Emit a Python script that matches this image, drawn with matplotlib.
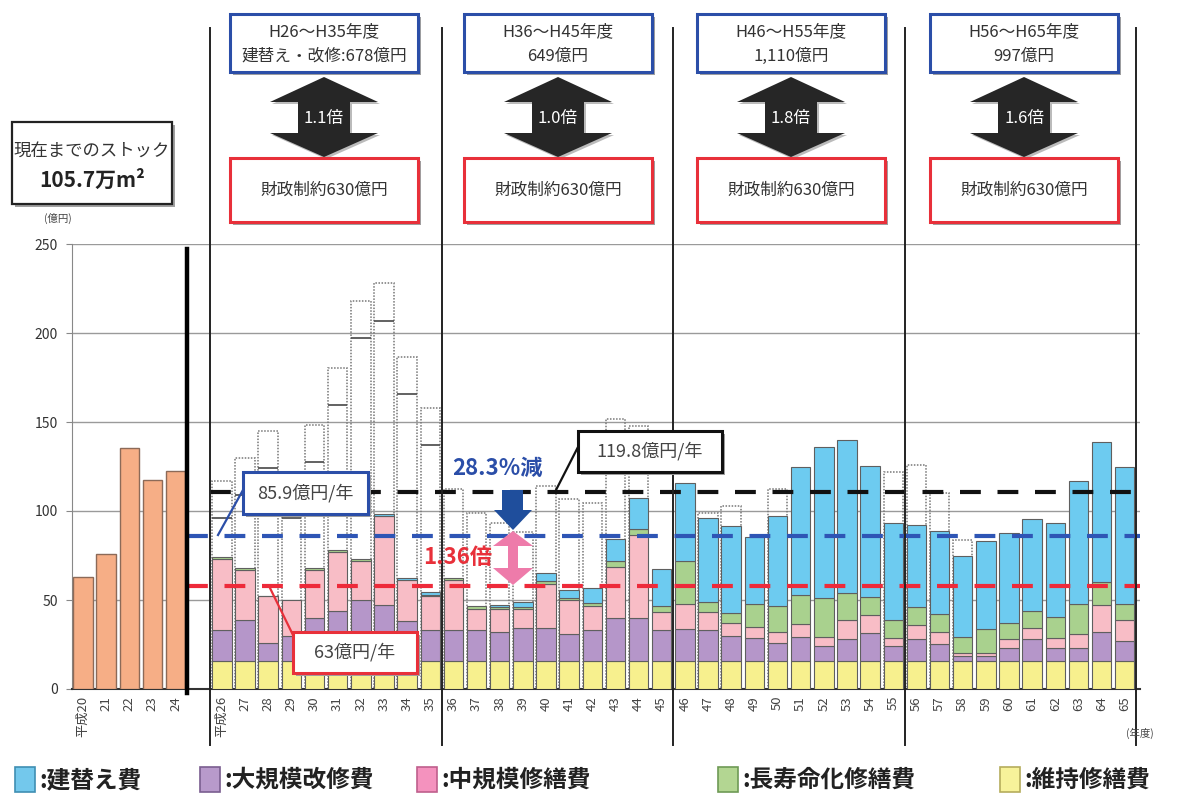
import numpy as np
import matplotlib
matplotlib.use('Agg')
import matplotlib.pyplot as plt
from matplotlib.patches import Rectangle, Polygon

plt.rcParams['font.family'] = ['Noto Sans CJK JP', 'DejaVu Sans']

# 実績（平成20～24年度）
hist_labels = ['平成20', '21', '22', '23', '24']
hist_vals = [63, 76, 135.5, 117.5, 122.5]

# 将来推計（平成26～65年度）
fut_labels = ['平成26', '27', '28', '29', '30', '31', '32', '33', '34', '35',
              '36', '37', '38', '39', '40', '41', '42', '43', '44', '45',
              '46', '47', '48', '49', '50', '51', '52', '53', '54', '55',
              '56', '57', '58', '59', '60', '61', '62', '63', '64', '65']
iji = [15.5, 15.5, 15.5, 15.5, 15.5, 15.5, 15.5, 15.5, 15.5, 15.5,
       15.5, 15.5, 15.5, 15.5, 15.5, 15.5, 15.5, 15.5, 15.5, 15.5,
       15.5, 15.5, 15.5, 15.5, 15.5, 15.5, 15.5, 15.5, 15.5, 15.5,
       15.5, 15.5, 15.5, 15.5, 15.5, 15.5, 15.5, 15.5, 15.5, 15.5]
daikibo = [17.5, 23.5, 10.5, 14.5, 24.5, 28.5, 34.5, 31.5, 22.5, 17.5,
           17.5, 17.5, 16.5, 18.5, 18.5, 15.5, 17.5, 24.5, 24.5, 17.5,
           18, 17.5, 14, 13, 10.5, 13.5, 8.5, 12.5, 16, 8.5,
           12.5, 10, 3, 3, 7.5, 12.5, 7.5, 7.5, 16.5, 11.5]
chukibo = [40, 28, 26, 20, 27, 33, 22, 50, 23, 19,
           28, 12, 13, 11, 25, 19, 13.5, 28.5, 46.5, 10,
           14.5, 10, 7.5, 6.5, 6, 7.5, 5, 11, 10, 4.5,
           8, 6.5, 2, 1.5, 5, 6, 5.5, 8, 15, 12]
choju = [1, 1, 0.5, 0, 1, 1, 1, 0, 0, 1,
         1.5, 1.5, 1, 1, 1.5, 1, 2, 3.5, 3.5, 3.5,
         24, 6, 5.5, 13, 14.5, 16.5, 22, 15, 10, 10,
         10, 10, 8.5, 13.5, 9, 10, 12, 17, 13, 9]
tatekae = [0, 0, 0, 0, 0, 0, 0, 1.5, 1.5, 1.5,
           0, 0, 1, 3, 4.5, 4.5, 8, 12, 17.5, 21,
           44, 47, 49, 37.5, 50.5, 71.5, 85, 86, 74, 54.5,
           46, 46.5, 45.5, 49.5, 50.5, 51.5, 52.5, 69, 79, 77]
# 長寿命化前の費用（点線の棒）と内訳線
before_total = [117, 130, 145, 116, 148.5, 180.5, 218, 228, 186.5, 158,
                112.5, 99, 93, 88, 114, 107, 104.5, 151.5, 148, 0,
                0, 99, 103, 0, 112.5, 0, 0, 0, 0, 122,
                126, 110, 83.5, 0, 0, 0, 0, 0, 0, 0]
before_inner = [96, 109, 124, 96, 127.5, 159.5, 197, 207, 165.5, 137]

# 平均線
avg_before = 110.5
avg_after = 85.9
budget = 58

series_names = [':建替え費', ':大規模改修費', ':中規模修繕費', ':長寿命化修繕費', ':維持修繕費']
seg_titles = [['H26～H35年度', '建替え・改修:678億円'], ['H36～H45年度', '649億円'],
              ['H46～H55年度', '1,110億円'], ['H56～H65年度', '997億円']]
seg_ratio = ['1.1倍', '1.0倍', '1.8倍', '1.6倍']

c_blue, c_purple, c_pink, c_green, c_yellow = '#6DCBF0', '#B596C9', '#F8BDC6', '#A9D18E', '#F7F08E'

fig = plt.figure(figsize=(11.78, 7.96), dpi=100)
ax = fig.add_axes([72 / 1178, 107 / 796, 1068 / 1178, 445 / 796])

xh = np.arange(len(hist_vals))
xf = np.arange(len(fut_labels)) + len(hist_vals) + 1
w = 0.84

ax.bar(xh, hist_vals, width=w, color='#F6AE86', edgecolor='#8c6a58', lw=1, zorder=3)

bt = np.array(before_total, dtype=float)
m = bt > 0
ax.bar(xf[m], bt[m], width=w, fill=False, edgecolor='#777777', lw=1.1,
       linestyle=(0, (1, 1)), zorder=2)
xi = xf[:len(before_inner)]
ax.hlines(before_inner, xi - w / 2, xi + w / 2, color='#555555', lw=1.3, zorder=2)

bottom = np.zeros(len(fut_labels))
for vals, col in [(iji, c_yellow), (daikibo, c_purple), (chukibo, c_pink),
                  (choju, c_green), (tatekae, c_blue)]:
    v = np.array(vals, dtype=float)
    k = v > 0
    ax.bar(xf[k], v[k], bottom=bottom[k], width=w, color=col,
           edgecolor='#5f5f5f', lw=0.8, zorder=3)
    bottom += v

ax.set_xlim(-0.475, 45.66)
ax.set_ylim(0, 250)
ax.set_yticks(range(0, 251, 50))
ax.yaxis.grid(True, color='#9a9a9a', lw=1)
ax.set_axisbelow(True)
for s in ['top', 'right']:
    ax.spines[s].set_visible(False)
ax.spines['left'].set_color('#888888')
ax.spines['bottom'].set_color('#333333')
ax.spines['bottom'].set_linewidth(1.5)
ax.set_xticks(list(xh) + list(xf))
ax.set_xticklabels(hist_labels + fut_labels, rotation=90, fontsize=9.5, color='#444444')
ax.tick_params(axis='x', length=0, pad=5)
ax.tick_params(axis='y', labelsize=10, labelcolor='#333333', color='#888888', length=4, pad=6)

# 平均線・制約線
ax.hlines(avg_before, 5.5, 45.66, colors='#111111', lw=3, linestyles=(0, (5, 4)), zorder=5)
ax.hlines(avg_after, 4.5, 45.66, colors='#2E55B5', lw=3, linestyles=(0, (5, 4)), zorder=5)
ax.hlines(budget, 4.5, 45.66, colors='#EE2A3A', lw=3, linestyles=(0, (5, 4)), zorder=5)

# 区切り線
tr = ax.get_xaxis_transform()
for xv in [5.5, 15.5, 25.5, 35.5, 45.5]:
    ax.plot([xv, xv], [-0.126, 1.485], transform=tr, color='#222222', lw=1.4,
            clip_on=False, zorder=6)
ax.plot([4.5, 4.5], [-2, 247], color='black', lw=3.2, clip_on=False, zorder=6)

# 注記用のオーバーレイ
ov = fig.add_axes([0, 0, 1, 1], zorder=10)
ov.set_xlim(0, 1178)
ov.set_ylim(796, 0)
ov.axis('off')
ov.patch.set_alpha(0)


def box(x0, y0, x1, y1, ec, lw=2.2, shadow=True):
    if shadow:
        ov.add_patch(Rectangle((x0 + 3, y0 + 3), x1 - x0, y1 - y0, fc='#a0a0a0', ec='none', zorder=1))
    ov.add_patch(Rectangle((x0, y0), x1 - x0, y1 - y0, fc='white', ec=ec, lw=lw, zorder=2))


for cx, lines, r in zip([324, 558, 791, 1024], seg_titles, seg_ratio):
    box(cx - 94, 14, cx + 94, 72, '#2B4EA8')
    ov.text(cx, 32, lines[0], ha='center', va='center', fontsize=12, color='#333333', zorder=3)
    ov.text(cx, 56, lines[1], ha='center', va='center', fontsize=12, color='#333333', zorder=3)
    pts = [(cx, 77), (cx + 54, 102), (cx + 26, 102), (cx + 26, 133), (cx + 54, 133), (cx, 157),
           (cx - 54, 133), (cx - 26, 133), (cx - 26, 102), (cx - 54, 102)]
    ov.add_patch(Polygon([(p[0] + 2, p[1] + 2) for p in pts], fc='#bbbbbb', ec='none', zorder=1))
    ov.add_patch(Polygon(pts, fc='#262626', ec='none', zorder=2))
    ov.text(cx, 118, r, ha='center', va='center', fontsize=12, color='white', zorder=3)
    box(cx - 94, 158, cx + 94, 222, '#E8303A')
    ov.text(cx, 190, '財政制約630億円', ha='center', va='center', fontsize=12, color='#333333', zorder=3)

box(12, 122, 172, 204, '#222222', lw=1.6)
ov.text(92, 151, '現在までのストック', ha='center', va='center', fontsize=12.5, color='#333333', zorder=3)
ov.text(92, 180, '105.7万m²', ha='center', va='center', fontsize=15, fontweight='bold', color='#222222', zorder=3)
ov.text(58, 218, '(億円)', ha='center', va='center', fontsize=7.5, color='#444444')
ov.text(1140, 733, '(年度)', ha='center', va='center', fontsize=7.5, color='#444444')

# 吹き出し
ov.plot([218, 243], [535, 490], color='#2B4EA8', lw=1.6, zorder=1)
box(243, 472, 368, 514, '#2B4EA8')
ov.text(305, 493, '85.9億円/年', ha='center', va='center', fontsize=13, color='#444444', zorder=3)
ov.plot([269, 293], [586, 635], color='#E8303A', lw=1.6, zorder=1)
box(293, 632, 417, 673, '#E8303A')
ov.text(355, 652, '63億円/年', ha='center', va='center', fontsize=13, color='#444444', zorder=3)
ov.plot([555, 578], [492, 447], color='#111111', lw=1.6, zorder=1)
box(578, 431, 722, 472, '#111111')
ov.text(650, 451, '119.8億円/年', ha='center', va='center', fontsize=13, color='#444444', zorder=3)

ov.text(497, 468, '28.3%減', ha='center', va='center', fontsize=16, fontweight='bold', color='#2B4EA8')
ov.add_patch(Polygon([(502, 490), (523, 490), (523, 510), (532, 510), (513, 530), (494, 510), (502, 510)],
                     fc='#1F4E9C', ec='none', zorder=3))
ov.text(458, 557, '1.36倍', ha='center', va='center', fontsize=16, fontweight='bold', color='#E8303A')
ov.add_patch(Polygon([(513, 531), (533, 546), (518, 546), (518, 568), (533, 568), (513, 585),
                      (493, 568), (508, 568), (508, 546), (493, 546)], fc='#EE7BAA', ec='none', zorder=3))

# 凡例
leg = [('#73C8EC', '#3f8fb3', 15), ('#B89ACB', '#7a5e90', 200), ('#F492BE', '#bf5f8c', 417),
       ('#B3D692', '#6e9a55', 718), ('#F7F29A', '#b5ad5c', 1000)]
for (fc, ec, lx), name in zip(leg, series_names):
    ov.add_patch(Rectangle((lx, 767), 20, 25, fc=fc, ec=ec, lw=1.2))
    ov.text(lx + 24, 780, name, ha='left', va='center', fontsize=17, fontweight='bold', color='#222222')

fig.savefig('out.png', dpi=100)
